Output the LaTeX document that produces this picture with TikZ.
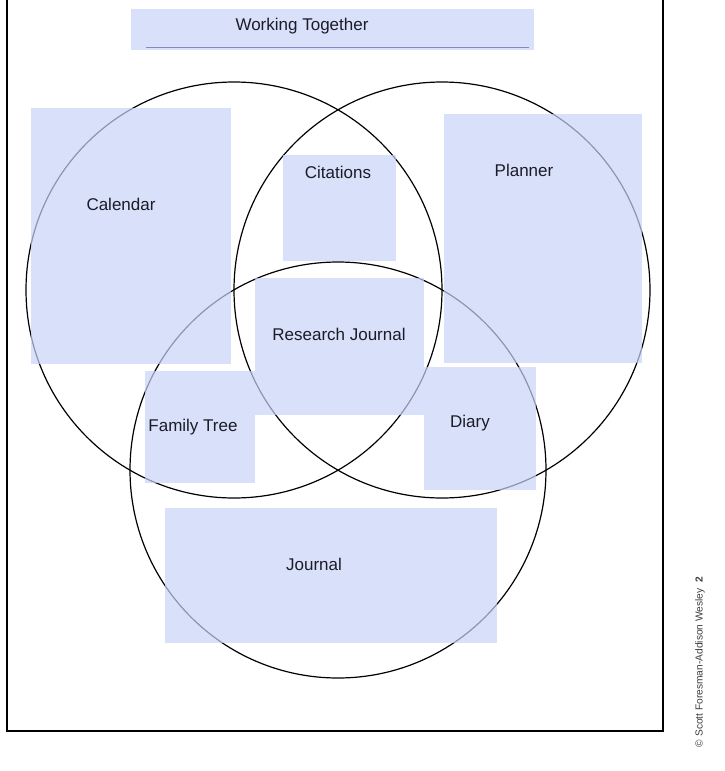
\documentclass[tikz,border=0pt]{standalone}
\usepackage{fontspec}
\setmainfont{Liberation Sans}
\usepackage{xcolor}
\definecolor{pad}{RGB}{201,211,248}
\definecolor{rule}{RGB}{128,138,190}
\definecolor{ink}{RGB}{28,28,40}
\definecolor{note}{RGB}{60,60,60}

\begin{document}
\begin{tikzpicture}[x=1pt,y=-1pt,
    padbox/.style={fill=pad, fill opacity=0.7, draw=none, inner sep=0pt},
    word/.style={text=ink, font=\fontsize{17}{20}\selectfont, inner sep=0pt},
    ring/.style={draw=black, line width=1.2pt}
    ]
    \useasboundingbox (0,0) rectangle (724,771);
    % frame
    \draw[line width=1.4pt] (7,-2) -- (7,731) -- (663,731) -- (663,-2);
    % title
    \node[padbox, minimum width=403pt, minimum height=41pt] (titlebox) at (332.5,29.5) {};
    \draw[rule, line width=0.9pt] (146,47.5) -- (529,47.5);
    \node[word] (title) at (302,26) {Working Together};
    % circles
    \draw[ring] (234,290) circle (208);
    \draw[ring] (442,290) circle (208);
    \draw[ring] (338,470) circle (208);
    % boxes
    \node[padbox, minimum width=200pt, minimum height=256pt] (calbox) at (131,236) {};
    \node[padbox, minimum width=113pt, minimum height=106pt] (citbox) at (339.5,208) {};
    \node[padbox, minimum width=198pt, minimum height=249pt] (planbox) at (543,238.5) {};
    \node[padbox, minimum width=169pt, minimum height=137pt] (resbox) at (339.5,346.5) {};
    \node[padbox, minimum width=110pt, minimum height=112pt] (treebox) at (200,427) {};
    \node[padbox, minimum width=112pt, minimum height=123pt] (diarybox) at (480,428.5) {};
    \node[padbox, minimum width=332pt, minimum height=135pt] (jourbox) at (331,575.5) {};
    % labels
    \node[word] (cal) at (121,204) {Calendar};
    \node[word] (cit) at (338,172) {Citations};
    \node[word] (plan) at (524,170) {Planner};
    \node[word] (res) at (339,334) {Research Journal};
    \node[word] (tree) at (193,427) {Family Tree};
    \node[word] (diary) at (470,423) {Diary};
    \node[word] (jour) at (314,564) {Journal};
    % credit
    \node[text=note, font=\fontsize{10.2}{12}\selectfont, rotate=90, inner sep=0pt] (credit) at (700,662) {© Scott Foresman-Addison Wesley\ \ \textbf{2}};
\end{tikzpicture}
\end{document}
